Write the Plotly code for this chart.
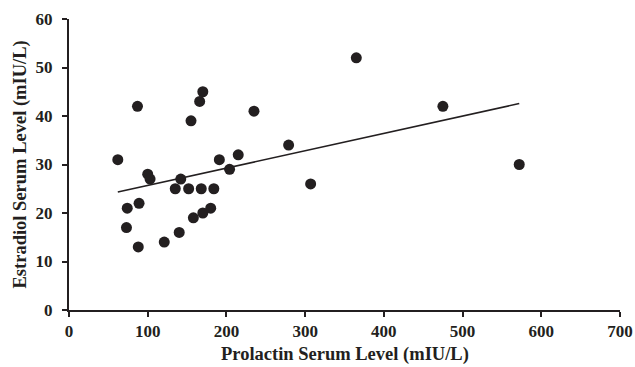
import numpy as np
import plotly.graph_objects as go

prolactin = [62, 87, 100, 103, 74, 89, 155, 166, 170, 235, 142, 135, 152, 168, 184,
             191, 215, 204, 158, 170, 180, 73, 88, 121, 140, 365, 475, 279, 307, 572]
estradiol = [31, 42, 28, 27, 21, 22, 39, 43, 45, 41, 27, 25, 25, 25, 25,
             31, 32, 29, 19, 20, 21, 17, 13, 14, 16, 52, 42, 34, 26, 30]

x_ticks = [0, 100, 200, 300, 400, 500, 600, 700]
y_ticks = [0, 10, 20, 30, 40, 50, 60]

slope, intercept = np.polyfit(prolactin, estradiol, 1)
fit_x = [min(prolactin), max(prolactin)]
fit_y = [slope * v + intercept for v in fit_x]

INK = "#231f20"
FAMILY = "Liberation Serif"
fig = go.Figure()
fig.add_trace(go.Scatter(x=fit_x, y=fit_y, mode="lines",
                         line=dict(color=INK, width=1.6), showlegend=False,
                         hoverinfo="skip"))
fig.add_trace(go.Scatter(x=prolactin, y=estradiol, mode="markers",
                         marker=dict(color=INK, size=11), showlegend=False))

tick_font = dict(family=FAMILY, size=17, color=INK)
axis_common = dict(showline=True, linecolor=INK, linewidth=2, ticks="outside",
                   ticklen=5, tickwidth=2, tickcolor=INK, showgrid=False,
                   zeroline=False, automargin=False, tickfont=tick_font)
title_font = dict(family=FAMILY, size=18.5, color=INK)
fig.update_layout(
    width=635, height=367,
    margin=dict(l=69, r=15, t=19, b=57),
    plot_bgcolor="white", paper_bgcolor="white",
    font=dict(family=FAMILY, size=16, color=INK),
    xaxis=dict(range=[0, 700], tickvals=x_ticks, ticktext=[f"<b>{v}</b>" for v in x_ticks],
               ticklabelstandoff=0, **axis_common),
    yaxis=dict(range=[0, 60], tickvals=y_ticks, ticktext=[f"<b>{v}</b>" for v in y_ticks],
               ticklabelstandoff=6, **axis_common),
    annotations=[
        dict(text="<b>Prolactin Serum Level (mIU/L)</b>", xref="paper", yref="paper",
             x=0.5, y=0, yshift=-44, xanchor="center", yanchor="middle",
             showarrow=False, font=title_font),
        dict(text="<b>Estradiol Serum Level (mIU/L)</b>", xref="paper", yref="paper",
             x=0, xshift=-49, y=0.5, xanchor="center", yanchor="middle", textangle=-90,
             showarrow=False, font=title_font),
    ],
)
fig.write_html("out.html", config={"displayModeBar": False},
               post_script="document.body.style.margin='0';document.body.style.overflow='hidden';")
